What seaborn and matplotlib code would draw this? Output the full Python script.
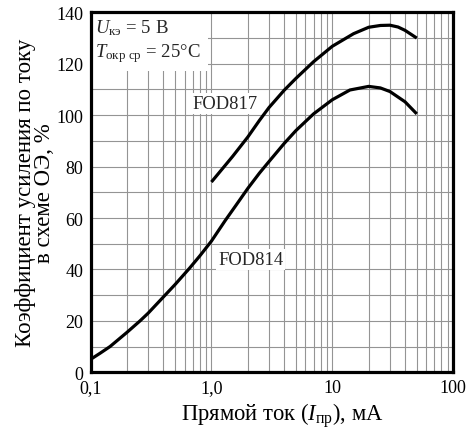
import matplotlib
matplotlib.use("Agg")
import matplotlib.pyplot as plt
from matplotlib.ticker import FixedLocator, LogLocator, MultipleLocator, NullFormatter
import pandas as pd
import seaborn as sns

# Forward current, mA, and current transfer ratio, %
fod814_if = [0.1, 0.12, 0.145, 0.2, 0.257, 0.3, 0.414, 0.5, 0.66, 0.8, 1.0, 1.3, 1.6,
             2, 2.5, 3, 4, 5, 7, 10, 14, 20, 25, 30, 40, 50]
fod814_ctr = [5, 7.4, 10, 15.5, 20, 23, 30, 34.1, 40.5, 45.2, 51, 59, 65,
              71.5, 77.5, 82, 89, 94, 100.5, 106, 109.8, 111.2, 110.6, 109.2, 105.2, 100.5]

fod817_if = [1.0, 1.5, 2, 2.5, 3, 4, 5, 7, 10, 15, 20, 25, 30, 35, 40, 50]
fod817_ctr = [74, 84, 91.5, 98, 103, 109.7, 114.3, 120.8, 126.8, 131.7, 134.2, 134.9,
              135, 134.3, 133, 130]

x_ticks = [0.1, 1, 10, 100]
x_tick_labels = ["0,1", "1,0", "10", "100"]
y_ticks = [0, 20, 40, 60, 80, 100, 120, 140]

sns.set_theme(style="white")
plt.rcParams["font.family"] = ["Liberation Serif", "DejaVu Serif"]
plt.rcParams["mathtext.fontset"] = "custom"
plt.rcParams["mathtext.rm"] = "Liberation Serif"
plt.rcParams["mathtext.it"] = "Liberation Serif:italic"

df814 = pd.DataFrame({"I": fod814_if, "K": fod814_ctr})
df817 = pd.DataFrame({"I": fod817_if, "K": fod817_ctr})

fig = plt.figure(figsize=(4.74, 4.31), dpi=100)
ax = fig.add_axes([0.191, 0.134, 0.765, 0.835])

for df in (df814, df817):
    sns.lineplot(data=df, x="I", y="K", ax=ax, color="black", lw=2.3, zorder=3,
                 solid_joinstyle="round", solid_capstyle="butt")

ax.set_xscale("log")
ax.set_xlim(0.1, 100)
ax.set_ylim(0, 140)

ax.xaxis.set_major_locator(FixedLocator(x_ticks))
ax.set_xticks(x_ticks)
ax.set_xticklabels(x_tick_labels)
ax.xaxis.set_minor_locator(LogLocator(base=10, subs=range(2, 10)))
ax.xaxis.set_minor_formatter(NullFormatter())
ax.set_yticks(y_ticks)
ax.yaxis.set_minor_locator(MultipleLocator(10))

ax.grid(which="both", color="#949494", lw=0.8)
ax.set_axisbelow(True)
ax.tick_params(which="both", length=0, labelsize=13, colors="black")
ax.tick_params(axis="y", pad=5)
ax.tick_params(axis="x", pad=5)

for s in ax.spines.values():
    s.set_visible(True)
    s.set_color("black")
    s.set_linewidth(2.3)

ax.set_xlabel(r"Прямой ток ($I_{\mathrm{пр}}$), мА", fontsize=16.3, color="black", labelpad=3)
ax.xaxis.label.set_x(0.53)
ax.set_ylabel("Коэффициент усиления по току\nв схеме ОЭ, %", fontsize=16.5,
              color="black", labelpad=1, linespacing=0.9)

ax.text(0.013, 0.985, r"$U_{\mathrm{кэ}}$ = 5 В" + "\n" + r"$T_{\mathrm{окр\ ср}}$ = 25°C",
        transform=ax.transAxes, fontsize=13.5, va="top", ha="left", linespacing=1.25,
        bbox=dict(facecolor="white", edgecolor="none", pad=5), zorder=2)

box = dict(facecolor="white", edgecolor="none", pad=1.5)
ax.text(1.3, 104.4, "FOD817", fontsize=13.3, ha="center", va="center", bbox=box, zorder=2)
ax.text(2.12, 44, "FOD814", fontsize=13.3, ha="center", va="center", bbox=box, zorder=2)

fig.savefig("out.png", dpi=100)
